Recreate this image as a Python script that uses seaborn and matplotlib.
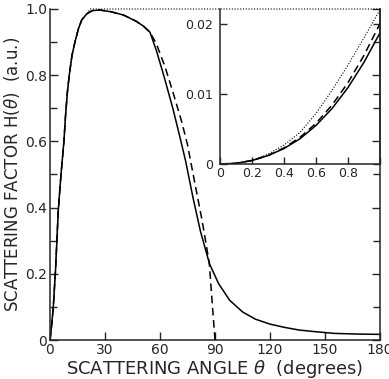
import numpy as np
import pandas as pd
import seaborn as sns
import matplotlib.pyplot as plt

# main panel: scattering factor vs angle (degrees)
theta_rise = [0, 1, 1.8, 3, 4.5, 6, 7.6, 8.5, 9.5, 10.5, 12, 13.6, 15.5, 17.3, 20]
h_rise = [0, 0.05, 0.10, 0.21, 0.39, 0.50, 0.60, 0.68, 0.75, 0.80, 0.86, 0.90, 0.94, 0.967, 0.985]

theta_solid = theta_rise + [23, 27, 33, 40, 47, 51, 54.5, 58, 62, 67, 71, 74, 78, 82, 87, 92, 98,
                            105, 112, 120, 128, 136, 145, 155, 167, 180]
h_solid = h_rise + [0.995, 0.997, 0.992, 0.982, 0.963, 0.948, 0.93, 0.875, 0.80, 0.70, 0.61, 0.54,
                    0.43, 0.33, 0.23, 0.17, 0.12, 0.085, 0.063, 0.048, 0.038, 0.03, 0.025, 0.02,
                    0.018, 0.017]

theta_dash = theta_rise + [23, 27, 33, 40, 47, 51, 54.5, 58, 62.7, 67, 71.8, 75, 79, 83, 86.9,
                           88.5, 90]
h_dash = h_rise + [0.995, 0.997, 0.992, 0.982, 0.963, 0.948, 0.93, 0.895, 0.826, 0.75, 0.66, 0.59,
                   0.474, 0.36, 0.232, 0.11, 0]

theta_dot = theta_rise + [22, 180]
h_dot = h_rise + [1.0, 1.0]

# inset: small-angle region
t_inset = [0, 0.1, 0.2, 0.3, 0.4, 0.5, 0.6, 0.7, 0.8, 0.9, 1.0]
h_inset_solid = [0, 0.0001, 0.0005, 0.0012, 0.0022, 0.0036, 0.0055, 0.0079, 0.0109, 0.0145, 0.0187]
h_inset_dash = [0, 0.0001, 0.0005, 0.0012, 0.0023, 0.0038, 0.0058, 0.0084, 0.0116, 0.0155, 0.0200]
h_inset_dot = [0, 0.0001, 0.0005, 0.0014, 0.0027, 0.0045, 0.0072, 0.0105, 0.0141, 0.0180, 0.0220]

sns.set_style("ticks")
plt.rcParams['font.family'] = ['DejaVu Sans']

W, H = 389, 379
fig = plt.figure(figsize=(W / 100, H / 100), dpi=100)
ax = fig.add_axes([50 / W, (H - 340) / H, 330 / W, 331 / H])

lw = 1.1
sns.lineplot(x=theta_solid, y=h_solid, ax=ax, color='black', linewidth=lw, sort=False)
sns.lineplot(x=theta_dash, y=h_dash, ax=ax, color='black', linewidth=lw, sort=False,
             linestyle=(0, (5, 3)))
sns.lineplot(x=theta_dot, y=h_dot, ax=ax, color='black', linewidth=0.8, sort=False,
             linestyle=(0, (1, 1.5)), clip_on=False)

ax.set_xlim(0, 180)
ax.set_ylim(0, 1.0)
ax.set_xticks(range(0, 181, 30))
ax.set_yticks([0, 0.2, 0.4, 0.6, 0.8, 1.0])
ax.set_yticklabels(['0', '0.2', '0.4', '0.6', '0.8', '1.0'])
ax.set_yticks(np.arange(0.1, 1.0, 0.2), minor=True)
ax.tick_params(which='both', direction='in', right=True, top=False, width=1.0,
               labelsize=10, pad=2)
ax.tick_params(which='major', length=6)
ax.tick_params(which='minor', length=5)
ax.spines['top'].set_visible(False)
for s in ['left', 'bottom', 'right']:
    ax.spines[s].set_linewidth(1.1)
ax.set_xlabel(r'SCATTERING ANGLE $\theta$  (degrees)', fontsize=13, labelpad=1)
ax.set_ylabel(r'SCATTERING FACTOR H($\theta$)  (a.u.)', fontsize=12, labelpad=2)

# inset
axi = fig.add_axes([220 / W, (H - 164) / H, 160 / W, 155 / H])
axi.set_facecolor('none')
sns.lineplot(x=t_inset, y=h_inset_solid, ax=axi, color='black', linewidth=lw)
sns.lineplot(x=t_inset, y=h_inset_dash, ax=axi, color='black', linewidth=lw,
             linestyle=(0, (5, 3)))
sns.lineplot(x=t_inset, y=h_inset_dot, ax=axi, color='black', linewidth=0.8,
             linestyle=(0, (1, 1.5)))
axi.set_xlim(0, 1.0)
axi.set_ylim(0, 0.0221)
axi.set_xticks([0, 0.2, 0.4, 0.6, 0.8, 1.0])
axi.set_xticklabels(['0', '0.2', '0.4', '0.6', '0.8', ''])
axi.set_yticks([0, 0.01, 0.02])
axi.set_yticklabels(['0', '0.01', '0.02'])
axi.tick_params(which='both', direction='in', right=True, top=False, length=5, width=1.0,
                labelsize=9)
axi.tick_params(axis='x', pad=2)
axi.tick_params(axis='y', pad=5)
axi.spines['top'].set_visible(False)
for s in ['left', 'bottom', 'right']:
    axi.spines[s].set_linewidth(1.1)
axi.set_xlabel('')
axi.set_ylabel('')

fig.savefig('out.png', dpi=100)
